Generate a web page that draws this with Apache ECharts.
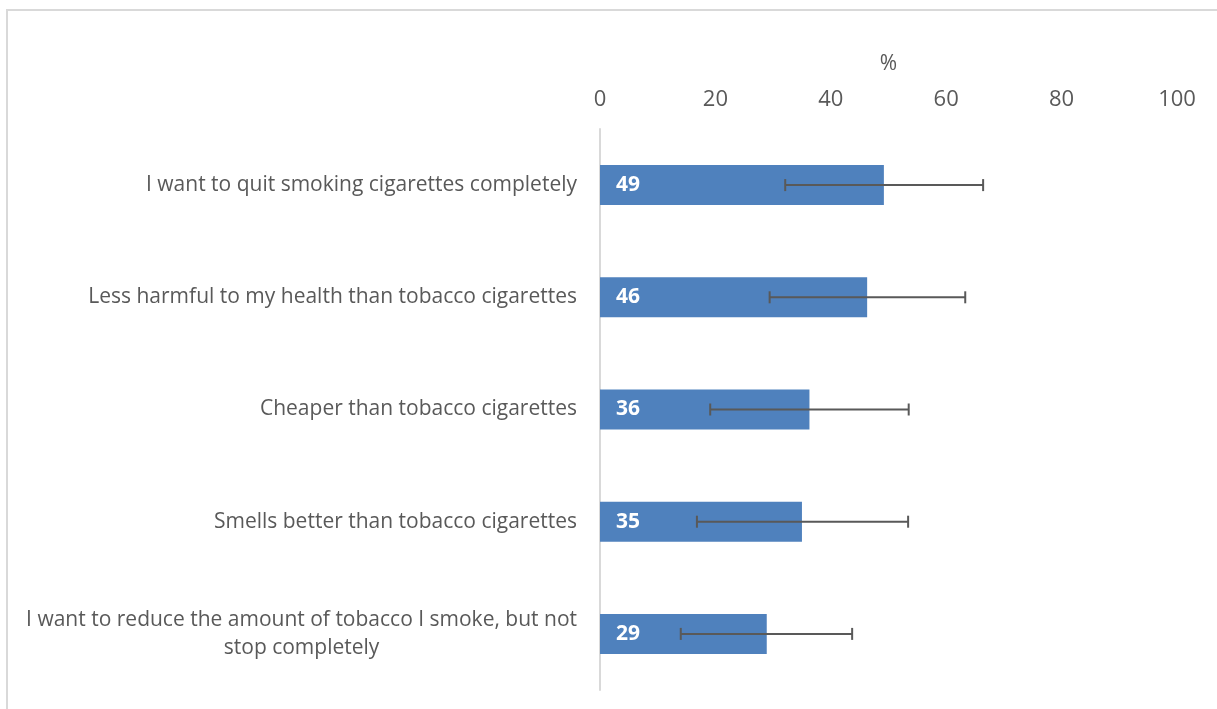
<!DOCTYPE html>
<html>
<head>
<meta charset="utf-8">
<script src="https://cdn.jsdelivr.net/npm/echarts@6/dist/echarts.min.js"></script>
<style>
html,body{margin:0;padding:0;background:#fff;}
#chart{width:1217px;height:709px;}
</style>
</head>
<body>
<div id="chart"></div>
<script>
const categories = [
  "I want to quit smoking cigarettes completely",
  "Less harmful to my health than tobacco cigarettes",
  "Cheaper than tobacco cigarettes",
  "Smells better than tobacco cigarettes",
  "I want to reduce the amount of tobacco I smoke, but not\nstop completely"
];
const values = [49.2, 46.3, 36.3, 35.0, 28.9];
const lowerCI = [32.1, 29.4, 19.1, 16.8, 14.0];
const upperCI = [66.4, 63.3, 53.5, 53.4, 43.7];
const xTicks = [0, 20, 40, 60, 80, 100];

const FONT = 'Open Sans';
const chart = echarts.init(document.getElementById('chart'));
chart.setOption({
  animation: false,
  backgroundColor: '#ffffff',
  graphic: [{
    type: 'rect', shape: {x: 7, y: 10, width: 1300, height: 800},
    style: {fill: 'none', stroke: '#d9d9d9', lineWidth: 2}, silent: true, z: -1
  }],
  grid: {left: 600, right: 40, top: 129, bottom: 19, containLabel: false},
  xAxis: {
    type: 'value', position: 'top', min: xTicks[0], max: xTicks[xTicks.length - 1], interval: 20,
    name: '%', nameLocation: 'middle', nameGap: 54,
    nameTextStyle: {color: '#595959', fontSize: 21, fontFamily: FONT},
    axisLine: {show: false}, axisTick: {show: false}, splitLine: {show: false},
    axisLabel: {color: '#595959', fontSize: 22, fontFamily: FONT, margin: 18}
  },
  yAxis: {
    type: 'category', data: categories, inverse: true,
    axisLine: {show: true, lineStyle: {color: '#d9d9d9', width: 2}},
    axisTick: {show: false},
    axisLabel: {
      color: '#595959', fontSize: 21, fontFamily: FONT, margin: 23, lineHeight: 28,
      formatter: function (v) { return v.split('\n').map(s => '{c|' + s + '}').join('\n'); },
      rich: {c: {align: 'center', color: '#595959', fontSize: 21, fontFamily: FONT, lineHeight: 28}}
    }
  },
  series: [{
    type: 'bar', data: values, barWidth: 40,
    itemStyle: {color: '#4f81bd'},
    label: {
      show: true, position: 'insideLeft', distance: 16,
      formatter: p => Math.round(p.value),
      color: '#ffffff', fontWeight: 'bold', fontSize: 21, fontFamily: FONT
    },
    z: 2
  }, {
    type: 'custom',
    data: categories.map((c, i) => [i, lowerCI[i], upperCI[i]]),
    encode: {y: 0, x: [1, 2]},
    renderItem: function (params, api) {
      const yi = api.value(0);
      const p1 = api.coord([api.value(1), yi]);
      const p2 = api.coord([api.value(2), yi]);
      const h = 6;
      const st = {stroke: '#595959', lineWidth: 2};
      return {type: 'group', children: [
        {type: 'line', shape: {x1: p1[0], y1: p1[1], x2: p2[0], y2: p2[1]}, style: st},
        {type: 'line', shape: {x1: p1[0], y1: p1[1] - h, x2: p1[0], y2: p1[1] + h}, style: st},
        {type: 'line', shape: {x1: p2[0], y1: p2[1] - h, x2: p2[0], y2: p2[1] + h}, style: st}
      ]};
    },
    z: 3
  }]
});
</script>
</body>
</html>
